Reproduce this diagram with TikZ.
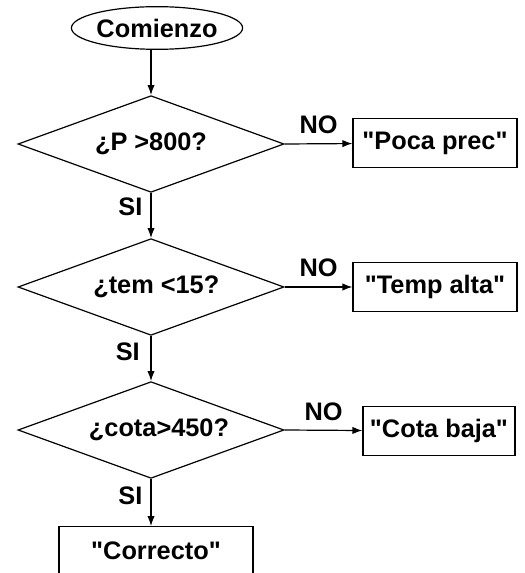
\documentclass[tikz,border=0pt]{standalone}
\usepackage{fontspec}
\setmainfont{Liberation Sans}
\usetikzlibrary{shapes.geometric}
\usetikzlibrary{arrows.meta}
\usetikzlibrary{positioning}

\newcommand{\cm}{\textquotedbl}

\tikzset{
  txt/.style={font=\fontsize{19}{21}\selectfont\bfseries},
  inicio/.style={ellipse, draw, txt, inner sep=0pt, minimum width=123pt, minimum height=32pt},
  pregunta/.style={diamond, draw, txt, aspect=2.7, inner sep=0pt, minimum width=199.5pt, minimum height=72.5pt},
  caja/.style={rectangle, draw, txt, inner sep=0pt, minimum height=36.5pt},
  etiq/.style={txt, inner sep=2pt}
}

\begin{document}
\begin{tikzpicture}[x=0.75pt, y=-0.75pt, line width=0.9pt, >={Latex[length=7.5pt,width=5.5pt]}]
\useasboundingbox (0,0) rectangle (524,573);
\node[inicio] (ini) at (157,28) {Comienzo};
\node[pregunta] (p1) at (151,144) {¿P >800?};
\node[pregunta] (p2) at (151,287) {\hspace{8pt}¿tem <15?};
\node[pregunta] (p3) at (151,430) {\hspace{12pt}¿cota>450?};
\node[caja, minimum width=123pt] (poca) at (435,143) {\cm Poca prec\cm};
\node[caja, minimum width=123pt] (temp) at (435,287) {\cm Temp alta\cm};
\node[caja, minimum width=114pt] (cota) at (439,431) {\cm Cota baja\cm};
\node[caja, minimum width=145.5pt] (ok) at (156,551) {\cm Correcto\cm};
% flujo principal
\draw[->] (ini.south -| p1.north) -- (p1.north);
\draw[->] (p1.south) -- node[etiq, pos=0.3, left=4pt] {SI} (p2.north);
\draw[->] (p2.south) -- node[etiq, pos=0.35, left=6pt] {SI} (p3.north);
\draw[->] (p3.south) -- node[etiq, pos=0.35, left=4pt] {SI} (p3.south |- ok.north);
% ramas NO
\draw[->] (p1.east) -- node[etiq, midway, above=5pt] {NO} (poca);
\draw[->] (p2.east) -- node[etiq, midway, above=5pt] {NO} (temp);
\draw[->] (p3.east) -- node[etiq, midway, above=5pt] {NO} (cota);
\end{tikzpicture}
\end{document}
